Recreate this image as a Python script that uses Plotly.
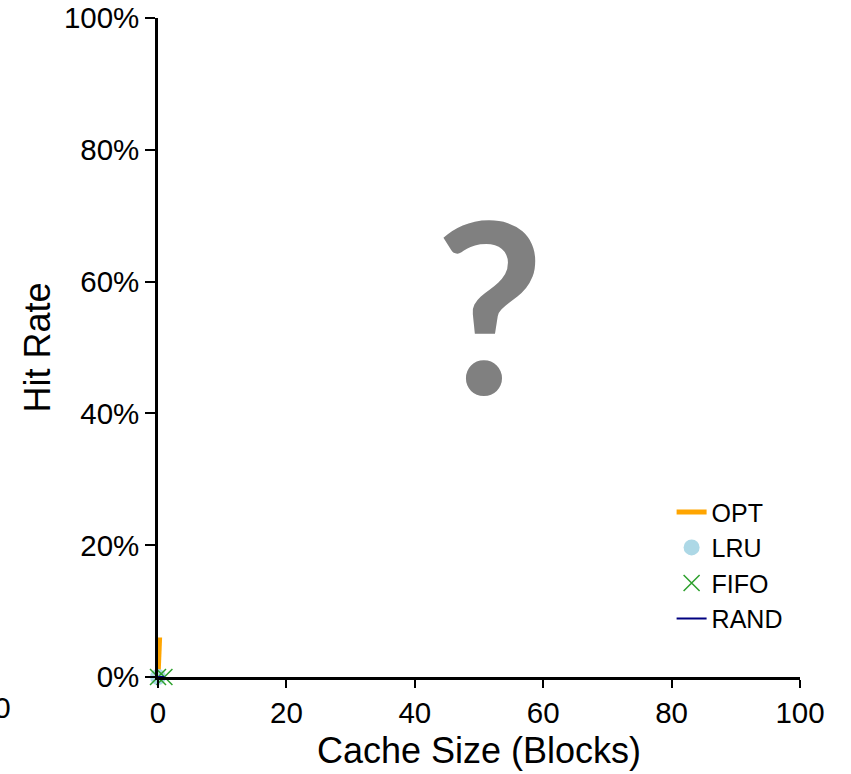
import plotly.graph_objects as go

opt_size = [0, 0.25]
opt_hit = [0.0, 0.06]
lru_size = [0]
lru_hit = [0.0]
fifo_size = [0, 1]
fifo_hit = [0.0, 0.0]
rand_size = [0, 1]
rand_hit = [0.0, 0.0]

x_ticks = [0, 20, 40, 60, 80, 100]
y_ticks = [0, 0.2, 0.4, 0.6, 0.8, 1.0]
y_tick_labels = ["0%", "20%", "40%", "60%", "80%", "100%"]

FONT = "Liberation Sans, Arial, Helvetica, sans-serif"

fig = go.Figure()
fig.add_trace(go.Scatter(x=opt_size, y=opt_hit, name="OPT", mode="lines",
                         line=dict(color="#FFA500", width=5), cliponaxis=False))
fig.add_trace(go.Scatter(x=lru_size, y=lru_hit, name="LRU", mode="markers",
                         marker=dict(color="#ADD8E6", size=16), cliponaxis=False))
fig.add_trace(go.Scatter(x=fifo_size, y=fifo_hit, name="FIFO", mode="markers",
                         marker=dict(color="#2CA02C", size=16, symbol="x-thin-open",
                                     line=dict(color="#2CA02C", width=1.5)),
                         cliponaxis=False))
fig.add_trace(go.Scatter(x=rand_size, y=rand_hit, name="RAND", mode="lines",
                         line=dict(color="#000080", width=2), cliponaxis=False))

fig.add_annotation(text="<b>?</b>", xref="paper", yref="paper", x=0.516, y=0.569,
                   showarrow=False,
                   font=dict(family="Lato", size=238, color="#808080"),
                   xanchor="center", yanchor="middle")
fig.add_annotation(text="0", xref="paper", yref="paper", x=-0.242, y=-0.046,
                   showarrow=False, xanchor="center", yanchor="middle",
                   font=dict(family=FONT, size=30, color="black"))

fig.update_layout(
    width=851, height=774,
    margin=dict(l=158, r=51, t=18, b=97, autoexpand=False),
    plot_bgcolor="white", paper_bgcolor="white",
    font=dict(family=FONT, size=29.5, color="black"),
    showlegend=True,
    legend=dict(x=0.80, y=0.285, xanchor="left", yanchor="top",
                bgcolor="rgba(0,0,0,0)", font=dict(size=25),
                itemwidth=30, tracegroupgap=0),
    xaxis=dict(range=[0, 100], tickvals=x_ticks, showgrid=False, zeroline=False,
               automargin=False,
               showline=True, linecolor="black", linewidth=2.5,
               ticks="outside", ticklen=8, tickwidth=2, tickcolor="black",
               title=dict(text="Cache Size (Blocks)", font=dict(size=36), standoff=10)),
    yaxis=dict(range=[0, 1], tickvals=y_ticks, ticktext=y_tick_labels,
               showgrid=False, zeroline=False, automargin=False,
               showline=True, linecolor="black", linewidth=2.5,
               ticks="outside", ticklen=10, tickwidth=2, tickcolor="black",
               title=dict(text="Hit Rate", font=dict(size=36), standoff=3)),
)

fig.write_html("out.html", config={"displayModeBar": False},
               post_script="document.body.style.margin='0';document.body.style.padding='0';")
